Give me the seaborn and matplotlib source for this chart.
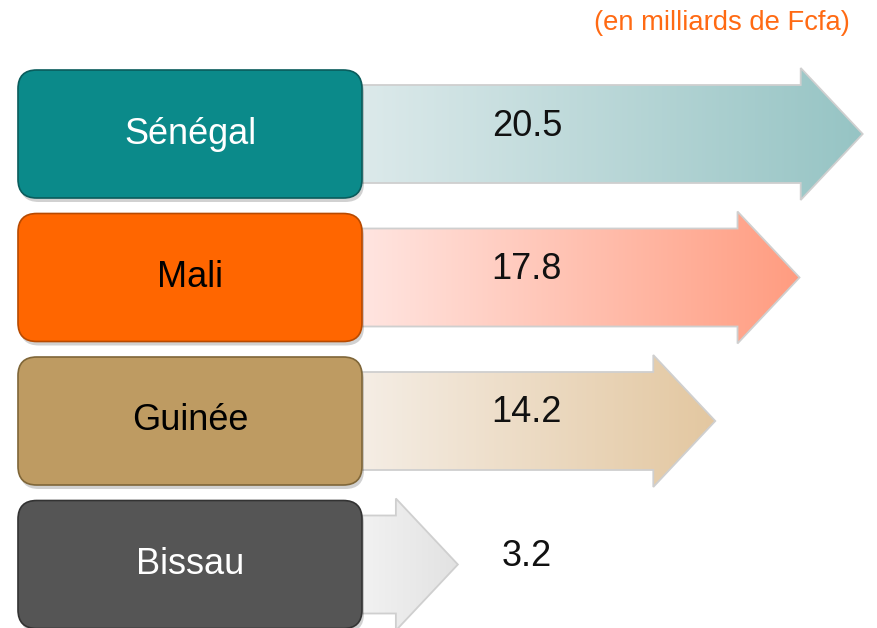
import numpy as np
import matplotlib
matplotlib.use("Agg")
import matplotlib.pyplot as plt
import matplotlib.colors as mcolors
from matplotlib.patches import Polygon, FancyBboxPatch
import seaborn as sns
import pandas as pd

# ---- data ----
countries = ["Sénégal", "Mali", "Guinée", "Bissau"]
values = [20.5, 17.8, 14.2, 3.2]
value_labels = ["20.5", "17.8", "14.2", "3.2"]
subtitle = "(en milliards de Fcfa)"

box_colors = ["#0B8A8A", "#FF6600", "#BE9B62", "#555555"]
box_edges = ["#0A5C5C", "#B84A00", "#7F6638", "#333333"]
label_colors = ["white", "black", "black", "white"]
grad_left = ["#DDEAEB", "#FFE6E2", "#F5EEE6", "#F3F3F3"]
grad_right = ["#96C4C4", "#FF9C80", "#E3C7A0", "#E2E2E2"]

sns.set_theme(style="white")
plt.rcParams["font.family"] = ["Liberation Sans", "DejaVu Sans"]

W, H = 877, 628
fig = plt.figure(figsize=(W / 100, H / 100), dpi=100)
ax = fig.add_axes([0, 0, 1, 1])

df = pd.DataFrame({"country": countries, "value": values})
sns.barplot(data=df, x="value", y="country", orient="h", ax=ax,
            color="white", width=0.68)

# scales: pixel = 383 + 23.4 * value ; rows 143.5 px apart, first centered at 134 px
px_per_x = 23.4
px_per_y = 143.5
xmin = -383 / px_per_x
xmax = (W - 383) / px_per_x
ymin = -134 / px_per_y
ymax = (H - 134) / px_per_y

head_len = 62 / px_per_x
body_half = 49 / px_per_y
head_half = 66 / px_per_y
tail_x = -1.2

bars = list(ax.patches)
for i, bar in enumerate(bars):
    bar.set_visible(False)
    v = bar.get_width()
    yc = bar.get_y() + bar.get_height() / 2
    verts = [
        (tail_x, yc - body_half),
        (v - head_len, yc - body_half),
        (v - head_len, yc - head_half),
        (v, yc),
        (v - head_len, yc + head_half),
        (v - head_len, yc + body_half),
        (tail_x, yc + body_half),
    ]
    poly = Polygon(verts, closed=True, facecolor="none", edgecolor="#CFCFCF",
                   lw=1.3, zorder=3)
    ax.add_patch(poly)
    c0 = np.array(mcolors.to_rgb(grad_left[i]))
    c1 = np.array(mcolors.to_rgb(grad_right[i]))
    t = np.linspace(0, 1, 256)[None, :, None]
    grad = c0 + (c1 - c0) * t
    im = ax.imshow(grad, extent=[tail_x, v, yc + head_half, yc - head_half],
                   aspect="auto", zorder=2, interpolation="bicubic")
    im.set_clip_path(poly)
    ax.text(6.15, yc - 8 / px_per_y, value_labels[i], ha="center", va="center",
            fontsize=26, color="#111111", zorder=6)

# label boxes
bx0 = (18 - 383) / px_per_x
bx1 = (362 - 383) / px_per_x
bh = 128 / px_per_y
aspect = (1 / px_per_y) / (1 / px_per_x)
for i, name in enumerate(countries):
    yc = i
    shadow = FancyBboxPatch((bx0 + 2 / px_per_x, yc - bh / 2 + 4 / px_per_y),
                            bx1 - bx0, bh,
                            boxstyle="round,pad=0,rounding_size=0.8",
                            mutation_aspect=aspect, facecolor="#000000",
                            alpha=0.18, edgecolor="none", zorder=4)
    ax.add_patch(shadow)
    box = FancyBboxPatch((bx0, yc - bh / 2), bx1 - bx0, bh,
                         boxstyle="round,pad=0,rounding_size=0.8",
                         mutation_aspect=aspect, facecolor=box_colors[i],
                         edgecolor=box_edges[i], lw=1.2, zorder=5)
    ax.add_patch(box)
    ax.text((bx0 + bx1) / 2, yc, name, ha="center", va="center",
            fontsize=26, color=label_colors[i], zorder=6)

ax.set_xlim(xmin, xmax)
ax.set_ylim(ymax, ymin)
ax.axis("off")

fig.text(850 / W, 1 - 23 / H, subtitle, ha="right", va="center",
         fontsize=19.7, color="#FF6A13")

fig.savefig("out.png", dpi=100)
